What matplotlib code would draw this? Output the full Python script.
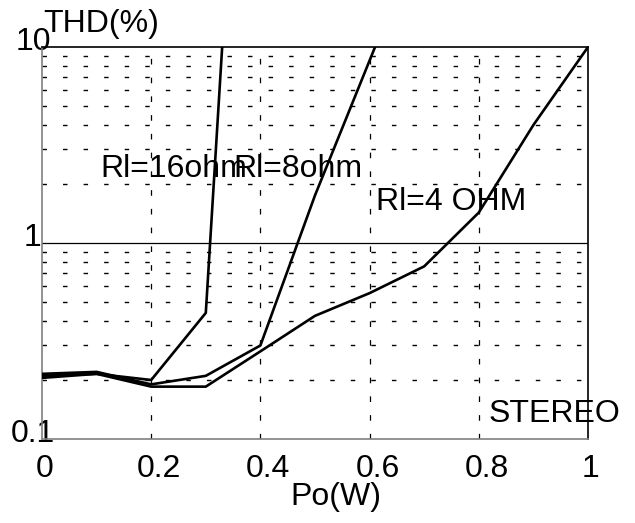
import matplotlib
matplotlib.use("Agg")
import matplotlib.pyplot as plt
import matplotlib.transforms as mtransforms

# THD vs output power, stereo, three loads
rl16_x = [0, 0.1, 0.2, 0.3, 0.33]
rl16_y = [0.21, 0.215, 0.2, 0.44, 10]
rl8_x = [0, 0.1, 0.2, 0.3, 0.4, 0.5, 0.61]
rl8_y = [0.215, 0.22, 0.19, 0.21, 0.3, 1.75, 10]
rl4_x = [0, 0.1, 0.2, 0.3, 0.4, 0.5, 0.6, 0.7, 0.8, 0.9, 1.0]
rl4_y = [0.205, 0.215, 0.185, 0.185, 0.28, 0.425, 0.555, 0.76, 1.43, 4.0, 10]

x_ticks = [0, 0.2, 0.4, 0.6, 0.8, 1]
x_labels = ["0", "0.2", "0.4", "0.6", "0.8", "1"]
y_ticks = [0.1, 1, 10]
y_labels = ["0.1", "1", "10"]
y_minor = [0.2, 0.3, 0.4, 0.5, 0.6, 0.7, 0.8, 0.9, 2, 3, 4, 5, 6, 7, 8, 9]

plt.rcParams["font.family"] = ["Liberation Sans", "DejaVu Sans"]
FS = 23

fig = plt.figure(figsize=(6.35, 5.23), dpi=100)
W, H = 635, 523
ax = fig.add_axes([42 / W, 1 - 439 / H, 546 / W, 392 / H])
ax.set_yscale("log")
ax.set_xlim(0, 1)
ax.set_ylim(0.1, 10)

# grid
for v in y_minor:
    ax.axhline(v, color="black", lw=1.0, dashes=(3.2, 11.6), zorder=1)
for v in x_ticks[1:-1]:
    ax.axvline(v, color="black", lw=0.9, dashes=(4.5, 10.5), zorder=1)
ax.axhline(1, color="black", lw=0.9, zorder=1)

for xs, ys in [(rl16_x, rl16_y), (rl8_x, rl8_y), (rl4_x, rl4_y)]:
    ax.plot(xs, ys, color="black", lw=1.9, zorder=3, clip_on=True)

for side in ["left", "bottom"]:
    ax.spines[side].set_color("#808080")
    ax.spines[side].set_linewidth(1.2)
for side in ["top", "right"]:
    ax.spines[side].set_color("black")
    ax.spines[side].set_linewidth(1.2)

ax.set_xticks(x_ticks, x_labels)
ax.set_yticks(y_ticks, y_labels)
ax.minorticks_off()
ax.tick_params(axis="both", length=0, labelsize=FS)
ax.tick_params(axis="y", pad=6.5)
ax.tick_params(axis="x", pad=10.5)

for lab in ax.get_yticklabels():
    lab.set_horizontalalignment("center")
    lab.set_transform(lab.get_transform() + mtransforms.ScaledTranslation(0, 0.08, fig.dpi_scale_trans))
for lab in ax.get_xticklabels():
    dx = 0.08 if "." in lab.get_text() else 0.03
    lab.set_transform(lab.get_transform() + mtransforms.ScaledTranslation(dx, 0, fig.dpi_scale_trans))

# curve labels
ax.text(0.106, 2.17, "Rl=16ohm", fontsize=FS, va="baseline", ha="left", zorder=4)
ax.text(0.35, 2.17, "Rl=8ohm", fontsize=FS, va="baseline", ha="left", zorder=4)
ax.text(0.612, 1.47, "Rl=4 OHM", fontsize=FS, va="baseline", ha="left", zorder=4)
ax.text(0.817, 0.122, "STEREO", fontsize=FS, va="baseline", ha="left", zorder=4, clip_on=False)

fig.text(43 / W, 1 - 24 / H, "THD(%)", fontsize=FS, ha="left", va="center")
fig.text(336 / W, 1 - 497 / H, "Po(W)", fontsize=FS, ha="center", va="center")

fig.savefig("out.png", dpi=100)
